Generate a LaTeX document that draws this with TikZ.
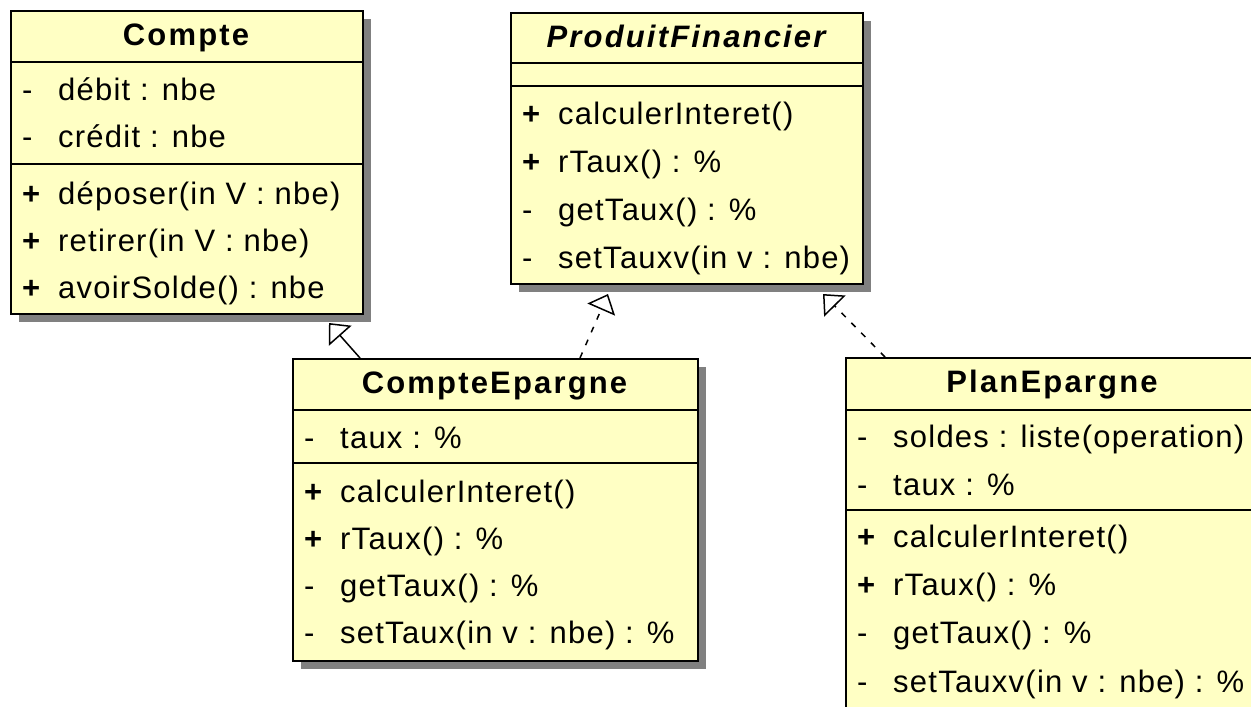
\documentclass[tikz,border=0pt]{standalone}
\usepackage{fontspec}
\setmainfont{Liberation Sans}[LetterSpace=4]
\usetikzlibrary{arrows.meta,calc,shadows}
\definecolor{umlfill}{RGB}{255,255,196}
\definecolor{umlshadow}{RGB}{128,128,128}
\newcommand\rowfont{\fontsize{31}{37}\selectfont}
\newcommand\clsfont{\fontsize{31}{37}\selectfont\bfseries\addfontfeatures{LetterSpace=7}}
\tikzset{
  clsbox/.style={draw=black, line width=2pt, fill=umlfill, inner sep=0pt, anchor=north west,
    drop shadow={opacity=1, fill=umlshadow, shadow xshift=8pt, shadow yshift=-8pt}},
  sepline/.style={line width=2pt, draw=black},
  rowtext/.style={anchor=base west, inner sep=0pt, font=\rowfont},
  vis/.style={anchor=base west, inner sep=0pt, font=\rowfont},
  clstitle/.style={anchor=base, inner sep=0pt, font=\clsfont},
  gen/.style={line width=1.5pt, -{Triangle[open, length=17pt, width=30pt, line width=1.5pt]}},
  real/.style={gen, dash pattern=on 6pt off 8pt},
}
\begin{document}
\begin{tikzpicture}[x=1pt, y=-1pt]
\useasboundingbox (0,0) rectangle (1251,707);
\fill[white] (0,0) rectangle (1251,707);
\clip (0,0) rectangle (1251,707);

% ---------- boxes ----------
\node[clsbox, minimum width=352pt, minimum height=303pt] (compte) at (10,10) {};
\node[clsbox, minimum width=352pt, minimum height=271pt] (pf) at (510,12) {};
\node[clsbox, minimum width=405pt, minimum height=302pt] (ce) at (292,358) {};
\node[clsbox, minimum width=414pt, minimum height=370pt] (pe) at (845,357) {};

% ---------- Compte ----------
\draw[sepline] (10,62) -- (362,62);
\draw[sepline] (10,164) -- (362,164);
\node[clstitle] (compte-t) at (186,45) {Compte};
\node[vis] (compte-v1) at (22,100) {-};
\node[rowtext] (compte-a1) at (58,100) {débit : nbe};
\node[vis] (compte-v2) at (22,147) {-};
\node[rowtext] (compte-a2) at (58,147) {crédit : nbe};
\node[vis] (compte-v3) at (22,204) {\bfseries +};
\node[rowtext] (compte-m1) at (58,204) {déposer(in V : nbe)};
\node[vis] (compte-v4) at (22,251) {\bfseries +};
\node[rowtext] (compte-m2) at (58,251) {retirer(in V : nbe)};
\node[vis] (compte-v5) at (22,298) {\bfseries +};
\node[rowtext] (compte-m3) at (58,298) {avoirSolde() : nbe};

% ---------- ProduitFinancier ----------
\draw[sepline] (510,63) -- (862,63);
\draw[sepline] (510,86) -- (862,86);
\node[clstitle] (pf-t) at (686,47) {\itshape ProduitFinancier};
\node[vis] (pf-v1) at (522,124) {\bfseries +};
\node[rowtext] (pf-m1) at (558,124) {calculerInteret()};
\node[vis] (pf-v2) at (522,172) {\bfseries +};
\node[rowtext] (pf-m2) at (558,172) {rTaux() : \%};
\node[vis] (pf-v3) at (522,220) {-};
\node[rowtext] (pf-m3) at (558,220) {getTaux() : \%};
\node[vis] (pf-v4) at (522,268) {-};
\node[rowtext] (pf-m4) at (558,268) {setTauxv(in v : nbe)};

% ---------- CompteEpargne ----------
\draw[sepline] (292,410) -- (697,410);
\draw[sepline] (292,463) -- (697,463);
\node[clstitle] (ce-t) at (494.5,393) {CompteEpargne};
\node[vis] (ce-v1) at (304,448) {-};
\node[rowtext] (ce-a1) at (340,448) {taux : \%};
\node[vis] (ce-v2) at (304,502) {\bfseries +};
\node[rowtext] (ce-m1) at (340,502) {calculerInteret()};
\node[vis] (ce-v3) at (304,549) {\bfseries +};
\node[rowtext] (ce-m2) at (340,549) {rTaux() : \%};
\node[vis] (ce-v4) at (304,596) {-};
\node[rowtext] (ce-m3) at (340,596) {getTaux() : \%};
\node[vis] (ce-v5) at (304,643) {-};
\node[rowtext] (ce-m4) at (340,643) {setTaux(in v : nbe) : \%};

% ---------- PlanEpargne ----------
\draw[sepline] (845,410) -- (1259,410);
\draw[sepline] (845,510) -- (1259,510);
\node[clstitle] (pe-t) at (1052,392) {PlanEpargne};
\node[vis] (pe-v1) at (857,447) {-};
\node[rowtext] (pe-a1) at (893,447) {soldes : liste(operation)};
\node[vis] (pe-v2) at (857,495) {-};
\node[rowtext] (pe-a2) at (893,495) {taux : \%};
\node[vis] (pe-v3) at (857,547) {\bfseries +};
\node[rowtext] (pe-m1) at (893,547) {calculerInteret()};
\node[vis] (pe-v4) at (857,595) {\bfseries +};
\node[rowtext] (pe-m2) at (893,595) {rTaux() : \%};
\node[vis] (pe-v5) at (857,643) {-};
\node[rowtext] (pe-m3) at (893,643) {getTaux() : \%};
\node[vis] (pe-v6) at (857,692) {-};
\node[rowtext] (pe-m4) at (893,692) {setTauxv(in v : nbe) : \%};

% ---------- connectors ----------
\draw[gen] ($(ce.north west)+(68,0)$) -- ($(compte.south west)+(319,8)$);
\draw[real] ($(ce.north west)+(288,0)$) -- ($(pf.south west)+(98,9)$);
\draw[real] ($(pe.north west)+(40,0)$) -- ($(pf.south west)+(313,9)$);
\end{tikzpicture}
\end{document}
